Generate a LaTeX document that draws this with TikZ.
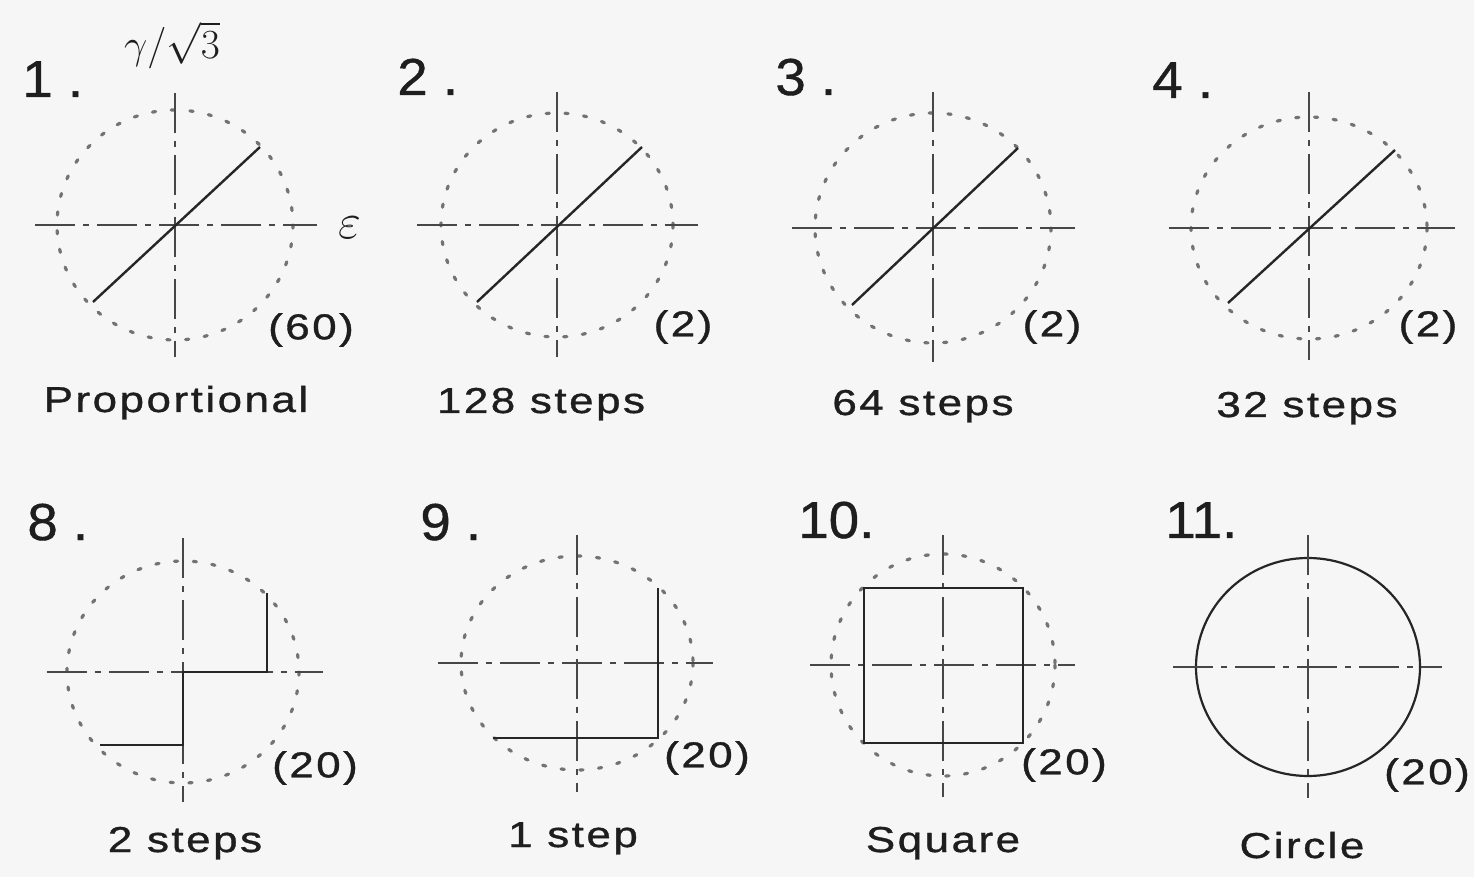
\documentclass[tikz,border=0pt]{standalone}
\usepackage{fontspec}
\newfontfamily\hv[FakeStretch=1.22,LetterSpace=7,FakeBold=1]{Liberation Sans}
\newfontfamily\hvn[FakeStretch=1.05,LetterSpace=0,FakeBold=0.8]{Liberation Sans}
\newcommand\hvlab{\hv\fontsize{18}{20}\selectfont}
\newcommand\hvbig{\hvn\fontsize{26}{28}\selectfont}
\definecolor{paper}{RGB}{246,246,246}
\definecolor{ink}{RGB}{30,30,30}
\begin{document}
\begin{tikzpicture}[x=0.5pt,y=-0.5pt,
  axis/.style={line width=1.1pt, draw=black!72, dash pattern=on 20pt off 4pt on 3pt off 4pt},
  refc/.style={line width=1.6pt, draw=black!55, dash pattern=on 1.6pt off 7.8pt, line cap=round},
  spath/.style={line width=1.2pt, draw=black!85},
  num/.style={font=\hvbig, text=ink, inner sep=0pt, anchor=base west},
  lab/.style={font=\hvlab, text=ink, inner sep=0pt, anchor=base},
  cnt/.style={font=\hvlab, text=ink, inner sep=0pt},
  mth/.style={text=ink, inner sep=0pt}]
\fill[paper] (0,0) rectangle (1474,877);
\useasboundingbox (0,0) rectangle (1474,877);

% ---------- Panel 1 ----------
\coordinate (c1) at (175,225);
\draw[refc] (c1) ellipse [x radius=118, y radius=115];
\draw[axis] (175,93) -- (175,357);
\draw[axis] (35,225) -- (317,225);
\draw[spath] (93,302) -- (260,147);
\node[num] (n1) at (22,97) {1 .};
\node[mth, font=\fontsize{22}{24}\selectfont] (g1) at (172,45) {$\gamma/\sqrt{3}$};
\node[mth, font=\fontsize{25}{27}\selectfont] (e1) at (350,228) {$\varepsilon$};
\node[cnt] (k1) at (311,330) {(60)};
\node[lab] (t1) at (176,412) {Proportional};

% ---------- Panel 2 ----------
\coordinate (c2) at (557,225);
\draw[refc] (c2) ellipse [x radius=116, y radius=112];
\draw[axis] (557,92) -- (557,357);
\draw[axis] (417,225) -- (698,225);
\draw[spath] (477,302) -- (642,147);
\node[num] (n2) at (397,95) {2 .};
\node[cnt] (k2) at (683,327) {(2)};
\node[lab] (t2) at (541,413) {128 steps};

% ---------- Panel 3 ----------
\coordinate (c3) at (933,228);
\draw[refc] (c3) ellipse [x radius=118, y radius=115];
\draw[axis] (933,92) -- (933,362);
\draw[axis] (792,228) -- (1075,228);
\draw[spath] (852,305) -- (1018,148);
\node[num] (n3) at (775,95) {3 .};
\node[cnt] (k3) at (1052,327) {(2)};
\node[lab] (t3) at (923,415) {64 steps};

% ---------- Panel 4 ----------
\coordinate (c4) at (1309,228);
\draw[refc] (c4) ellipse [x radius=118, y radius=111];
\draw[axis] (1309,92) -- (1309,360);
\draw[axis] (1169,228) -- (1455,228);
\draw[spath] (1228,303) -- (1395,150);
\node[num] (n4) at (1152,98) {4 .};
\node[cnt] (k4) at (1428,327) {(2)};
\node[lab] (t4) at (1307,417) {32 steps};

% ---------- Panel 8 ----------
\coordinate (c8) at (183,672);
\draw[refc] (c8) ellipse [x radius=116, y radius=111];
\draw[axis] (183,538) -- (183,802);
\draw[axis] (47,672) -- (323,672);
\draw[spath] (100,745) -- (183,745) -- (183,672) -- (267,672) -- (267,593);
\node[num] (n8) at (27,540) {8 .};
\node[cnt] (k8) at (315,768) {(20)};
\node[lab] (t8) at (185,852) {2 steps};

% ---------- Panel 9 ----------
\coordinate (c9) at (577,663);
\draw[refc] (c9) ellipse [x radius=116, y radius=107];
\draw[axis] (577,535) -- (577,792);
\draw[axis] (438,663) -- (713,663);
\draw[spath] (493,738) -- (658,738) -- (658,588);
\node[num] (n9) at (420,540) {9 .};
\node[cnt] (k9) at (707,758) {(20)};
\node[lab] (t9) at (573,847) {1 step};

% ---------- Panel 10 ----------
\coordinate (c10) at (943,665);
\draw[refc] (c10) ellipse [x radius=112, y radius=111];
\draw[axis] (943,535) -- (943,797);
\draw[axis] (810,665) -- (1075,665);
\draw[spath] (864,588) rectangle (1023,743);
\node[num] (n10) at (798,538) {10.};
\node[cnt] (k10) at (1064,765) {(20)};
\node[lab] (t10) at (943,852) {Square};

% ---------- Panel 11 ----------
\coordinate (c11) at (1308,667);
\draw[spath, line width=1.1pt] (c11) ellipse [x radius=112, y radius=109];
\draw[axis] (1308,535) -- (1308,798);
\draw[axis] (1173,667) -- (1442,667);
\node[num] (n11) at (1165,538) {11.};
\node[cnt] (k11) at (1427,775) {(20)};
\node[lab] (t11) at (1302,858) {Circle};
\end{tikzpicture}
\end{document}
